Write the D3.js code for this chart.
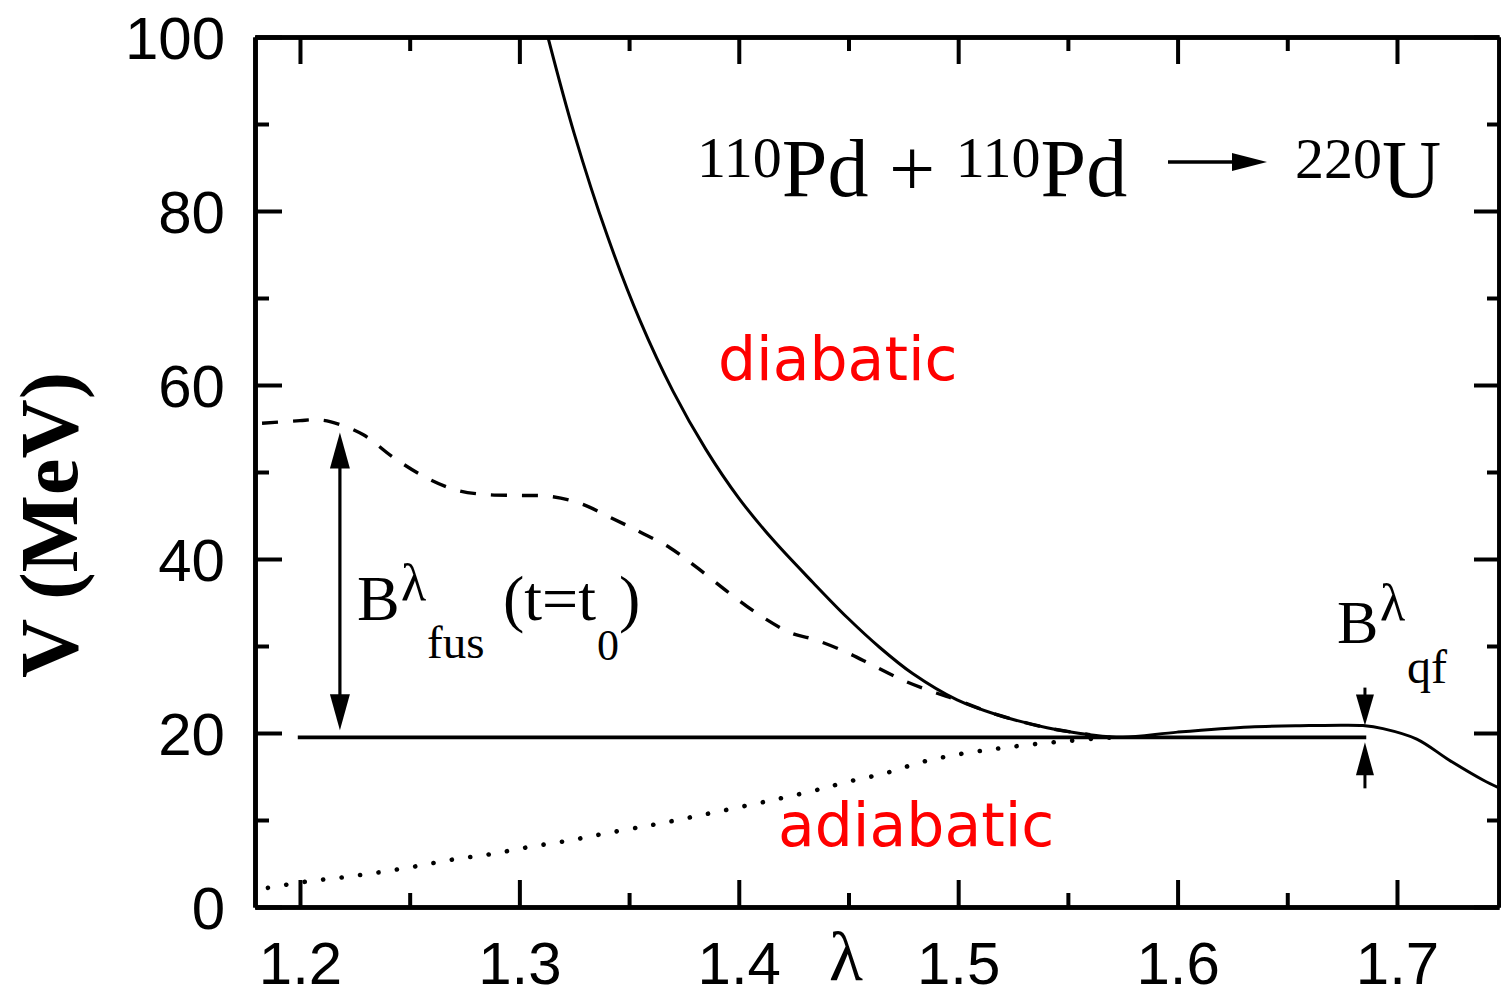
<!DOCTYPE html>
<html>
<head>
<meta charset="utf-8">
<script src="https://cdn.jsdelivr.net/npm/d3@7"></script>
<style>
  html, body { margin: 0; padding: 0; background: #fff; }
  svg { display: block; }
</style>
</head>
<body>
<svg id="chart" width="1501" height="997"></svg>
<script>
// Deformation coordinate λ and potential V (MeV)
const xMajorTicks = [1.2, 1.3, 1.4, 1.5, 1.6, 1.7];
const xMinorTicks = [1.25, 1.35, 1.45, 1.55, 1.65];
const yMajorTicks = [0, 20, 40, 60, 80, 100];
const yMinorTicks = [10, 30, 50, 70, 90];

// diabatic potential (solid)
const diabaticLambda = [1.313, 1.325, 1.34, 1.355, 1.37, 1.385, 1.4,  1.4156, 1.4338, 1.4493, 1.4644, 1.4794, 1.4995, 1.5177, 1.5405, 1.5601, 1.575, 1.6,  1.633, 1.66,  1.675, 1.6845, 1.6936, 1.709, 1.7237, 1.7392, 1.7465];
const diabaticV      = [100,   88.9,  77.2, 67.4,  59.3, 52.6,  47.0, 42.2,   37.3,   33.3,   29.8,   26.8,   23.8,   22.1,   20.6,   19.8,   19.5,  20.1, 20.7,  20.85, 20.9,  20.85,  20.5,   19.3,  16.9,   14.6,   13.7];

// barrier at t = t0 (dashed)
const t0Lambda = [1.1827, 1.2, 1.206, 1.2137, 1.2287, 1.2424, 1.2579, 1.2716, 1.2852, 1.3003, 1.314, 1.3276, 1.3413, 1.355, 1.3686, 1.381, 1.3956, 1.4092, 1.4238, 1.4338, 1.448, 1.4617, 1.4763, 1.49, 1.4995, 1.5177, 1.5405, 1.5601];
const t0V      = [55.6,   55.9, 56.0,  55.8,   54.3,   51.7,   49.3,   47.9,   47.4,   47.3,   47.2,  46.4,   44.8,   43.1,  41.3,   39.0,  36.1,   33.6,   31.5,   30.8,   29.4,  27.7,   25.9,   24.6, 23.8,   22.1,   20.6,   19.8];

// adiabatic potential (dotted)
const adiabaticLambda = [1.1854, 1.2023, 1.2191, 1.2365, 1.2533, 1.2706, 1.2875, 1.3044, 1.3217, 1.3381, 1.3554, 1.3641, 1.4315, 1.4498, 1.4671, 1.484, 1.5013, 1.5177, 1.5341, 1.551, 1.5646, 1.5737];
const adiabaticV      = [2.2,    2.9,    3.4,    4.0,    4.7,    5.5,    6.1,    6.9,    7.6,    8.4,    9.2,    9.6,    13.2,   14.4,   15.4,   16.7,  17.6,   18.2,   18.7,   19.1,  19.4,   19.5];

// ground level of the compound system and barrier markers
const groundLevel = { from: 1.199, to: 1.686, V: 19.5 };
const fusArrowLambda = 1.2182;
const fusTopV = 55.7;
const qfArrowLambda = 1.6854;
const qfTopV = 20.85;

const svg = d3.select("#chart");
const plotLeft = 255, plotRight = 1499, plotTop = 37, plotBottom = 907;

const x = d3.scaleLinear().domain([1.1795, 1.7465]).range([plotLeft, plotRight]);
const y = d3.scaleLinear().domain([0, 100]).range([plotBottom, plotTop]);

const sans = "'Liberation Sans', Arial, Helvetica, sans-serif";
const serif = "'Liberation Serif', 'Times New Roman', Times, serif";

// clip for curves
svg.append("defs").append("clipPath").attr("id", "plotClip")
  .append("rect").attr("x", plotLeft).attr("y", plotTop)
  .attr("width", plotRight - plotLeft).attr("height", plotBottom - plotTop);

const plot = svg.append("g").attr("clip-path", "url(#plotClip)");
const line = d3.line().x(d => x(d[0])).y(d => y(d[1])).curve(d3.curveCatmullRom.alpha(0.5));

plot.append("path")
  .datum(d3.zip(adiabaticLambda, adiabaticV))
  .attr("d", line).attr("fill", "none").attr("stroke", "#000")
  .attr("stroke-width", 4.6).attr("stroke-linecap", "round").attr("stroke-dasharray", "0.1 18.5");

plot.append("path")
  .datum(d3.zip(t0Lambda, t0V))
  .attr("d", line).attr("fill", "none").attr("stroke", "#000")
  .attr("stroke-width", 3.4).attr("stroke-dasharray", "16 15");

plot.append("path")
  .datum(d3.zip(diabaticLambda, diabaticV))
  .attr("d", line).attr("fill", "none").attr("stroke", "#000").attr("stroke-width", 3);

plot.append("line")
  .attr("x1", x(groundLevel.from)).attr("x2", x(groundLevel.to))
  .attr("y1", y(groundLevel.V)).attr("y2", y(groundLevel.V))
  .attr("stroke", "#000").attr("stroke-width", 3.6);

// axes: ticks on all four sides, pointing inward
function drawAxis(axisGen, transform, showLabels) {
  const g = svg.append("g").attr("transform", transform).call(axisGen);
  g.select(".domain").attr("stroke-width", 4.6);
  g.selectAll(".tick line").attr("stroke-width", 4);
  if (!showLabels) g.selectAll(".tick text").remove();
  return g;
}
const fmtX = d3.format(".1f");
const xAxisB = d3.axisBottom(x).tickValues(xMajorTicks).tickSize(-27).tickSizeOuter(0).tickFormat(fmtX);
const xAxisT = d3.axisTop(x).tickValues(xMajorTicks).tickSize(-27).tickSizeOuter(0);
const xMinB = d3.axisBottom(x).tickValues(xMinorTicks).tickSize(-14).tickSizeOuter(0);
const xMinT = d3.axisTop(x).tickValues(xMinorTicks).tickSize(-14).tickSizeOuter(0);
const yAxisL = d3.axisLeft(y).tickValues(yMajorTicks).tickSize(-27).tickSizeOuter(0).tickFormat(d3.format("d"));
const yAxisR = d3.axisRight(y).tickValues(yMajorTicks).tickSize(-25).tickSizeOuter(0);
const yMinL = d3.axisLeft(y).tickValues(yMinorTicks).tickSize(-14).tickSizeOuter(0);
const yMinR = d3.axisRight(y).tickValues(yMinorTicks).tickSize(-12).tickSizeOuter(0);

drawAxis(xMinB, `translate(0,${plotBottom})`, false);
drawAxis(xMinT, `translate(0,${plotTop})`, false);
drawAxis(yMinL, `translate(${plotLeft},0)`, false);
drawAxis(yMinR, `translate(${plotRight},0)`, false);
const gxB = drawAxis(xAxisB, `translate(0,${plotBottom})`, true);
drawAxis(xAxisT, `translate(0,${plotTop})`, false);
const gyL = drawAxis(yAxisL, `translate(${plotLeft},0)`, true);
drawAxis(yAxisR, `translate(${plotRight},0)`, false);

gxB.selectAll(".tick text")
  .attr("y", 77).attr("dy", null)
  .attr("font-family", sans).attr("font-size", 60).attr("fill", "#000");
gyL.selectAll(".tick text")
  .attr("x", -30).attr("dy", 21)
  .attr("font-family", sans).attr("font-size", 60).attr("fill", "#000");

// axis titles
svg.append("text")
  .attr("x", 846).attr("y", 980).attr("text-anchor", "middle")
  .attr("font-family", serif).attr("font-size", 70).text("λ");

svg.append("text")
  .attr("transform", "translate(77,525) rotate(-90)")
  .attr("text-anchor", "middle")
  .attr("font-family", serif).attr("font-weight", "bold").attr("font-size", 82)
  .text("V (MeV)");

// reaction
const reaction = svg.append("text").attr("x", 697).attr("y", 196)
  .attr("font-family", serif).attr("font-size", 82).attr("fill", "#000");
reaction.append("tspan").attr("font-size", 58).attr("dy", -19).text("110");
reaction.append("tspan").attr("dy", 19).text("Pd");
reaction.append("tspan").text(" + ");
reaction.append("tspan").attr("font-size", 58).attr("dy", -19).text("110");
reaction.append("tspan").attr("dy", 19).text("Pd");

svg.append("line").attr("x1", 1168).attr("x2", 1236).attr("y1", 162).attr("y2", 162)
  .attr("stroke", "#000").attr("stroke-width", 3.5);
svg.append("path").attr("d", "M1232,153 L1267,162 L1232,171 Z").attr("fill", "#000");

const product = svg.append("text").attr("x", 1295).attr("y", 197)
  .attr("font-family", serif).attr("font-size", 82).attr("fill", "#000");
product.append("tspan").attr("font-size", 58).attr("dy", -19).text("220");
product.append("tspan").attr("dy", 19).text("U");

// curve names
svg.append("text").attr("x", 718).attr("y", 380)
  .attr("font-family", "'DejaVu Sans', Verdana, sans-serif").attr("font-size", 60)
  .attr("fill", "#ff0000").text("diabatic");
svg.append("text").attr("x", 778).attr("y", 846)
  .attr("font-family", "'DejaVu Sans', Verdana, sans-serif").attr("font-size", 60)
  .attr("fill", "#ff0000").text("adiabatic");

// fusion barrier arrow
function arrowHead(xTip, yTip, dir, len, half) {
  // dir: -1 pointing up, +1 pointing down
  const yb = yTip - dir * len;
  return `M${xTip},${yTip} L${xTip - half},${yb} L${xTip + half},${yb} Z`;
}
const fx = x(fusArrowLambda);
const fTop = y(fusTopV) + 10;
const fBot = y(groundLevel.V) - 7;
svg.append("line").attr("x1", fx).attr("x2", fx).attr("y1", fTop + 20).attr("y2", fBot - 20)
  .attr("stroke", "#000").attr("stroke-width", 3.2);
svg.append("path").attr("d", arrowHead(fx, fTop, -1, 36, 10)).attr("fill", "#000");
svg.append("path").attr("d", arrowHead(fx, fBot, 1, 36, 10)).attr("fill", "#000");

// quasi-fission barrier arrows
const qx = x(qfArrowLambda);
const qTop = y(qfTopV);
const qBot = y(groundLevel.V) + 5;
svg.append("line").attr("x1", qx).attr("x2", qx).attr("y1", qTop - 38).attr("y2", qTop - 20)
  .attr("stroke", "#000").attr("stroke-width", 3);
svg.append("path").attr("d", arrowHead(qx, qTop, 1, 31, 9)).attr("fill", "#000");
svg.append("line").attr("x1", qx).attr("x2", qx).attr("y1", qBot + 20).attr("y2", qBot + 46)
  .attr("stroke", "#000").attr("stroke-width", 3);
svg.append("path").attr("d", arrowHead(qx, qBot, -1, 33, 9)).attr("fill", "#000");

// barrier labels
function label(xp, yp, size, txt) {
  svg.append("text").attr("x", xp).attr("y", yp)
    .attr("font-family", serif).attr("font-size", size).attr("fill", "#000").text(txt);
}
label(357, 620, 64, "B");
label(401, 600, 52, "λ");
label(427, 658, 47, "fus");
label(503, 620, 64, "(t=t");
label(597, 660, 44, "0");
label(619, 620, 64, ")");

label(1337, 643, 62, "B");
label(1380, 620, 52, "λ");
label(1407, 683, 48, "qf");
</script>
</body>
</html>
